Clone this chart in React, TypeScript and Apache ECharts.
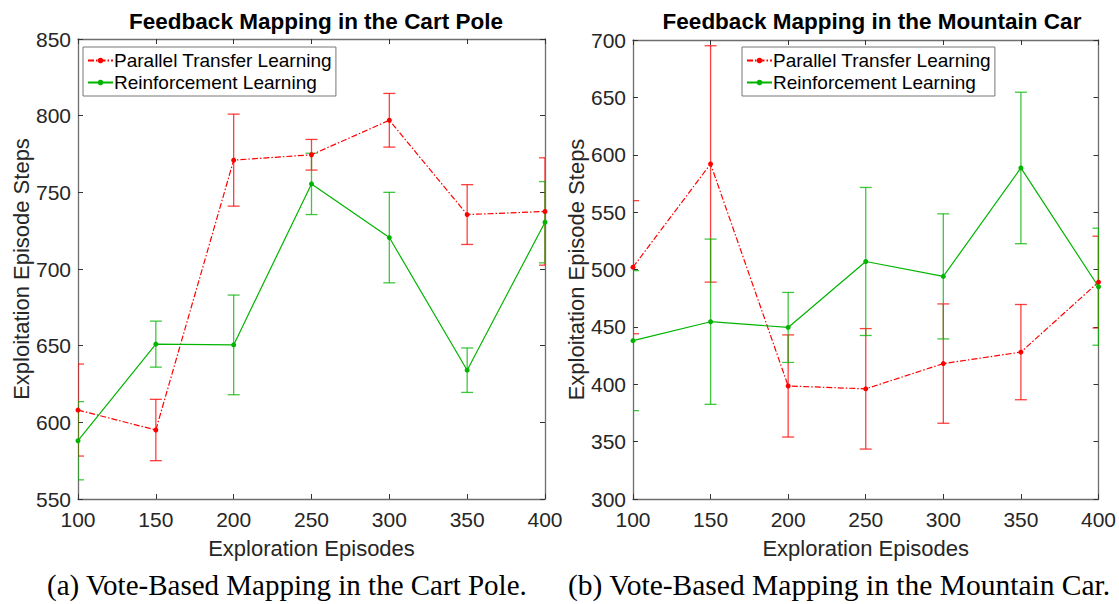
import React, { useEffect, useRef } from "react";
import * as echarts from "echarts";

const episodes = [100, 150, 200, 250, 300, 350, 400];

const cartPTL = [608, 595, 771, 774.5, 797, 735.5, 737.5];
const cartPTLErr = [30, 20, 30, 10, 17.5, 19.5, 35];
const cartRL = [588, 651, 650.5, 755.5, 720.5, 634, 730.5];
const cartRLErr = [25.5, 15, 32.5, 20, 29.5, 14.5, 26.5];

const mcPTL = [502, 592, 398.5, 396, 418, 428, 489];
const mcPTLErr = [58, 103, 44.5, 52.5, 52, 41.5, 40];
const mcRL = [438, 454.5, 449.5, 507, 494, 588.5, 485];
const mcRLErr = [61, 72, 30.5, 64.5, 54.5, 66, 51];

const titles = ["Feedback Mapping in the Cart Pole", "Feedback Mapping in the Mountain Car"];
const captions = ["(a) Vote-Based Mapping in the Cart Pole.", "(b) Vote-Based Mapping in the Mountain Car."];
const seriesNames = ["Parallel Transfer Learning", "Reinforcement Learning"];
const yAxisName = "Exploitation Episode Steps";
const xAxisName = "Exploration Episodes";

const RED = "#ff0000";
const GREEN = "#00b400";
const SANS = "'Liberation Sans', Arial, Helvetica, sans-serif";
const SERIF = "'Liberation Serif', 'DejaVu Serif', serif";
const AXIS_COLOR = "#6e6e6e";
const TEXT_COLOR = "#262626";

function pairs(vals: number[]) {
  return episodes.map((x, i) => [x, vals[i]]);
}
function errs(vals: number[], e: number[]) {
  return episodes.map((x, i) => [x, vals[i] - e[i], vals[i] + e[i]]);
}

function errorSeries(data: number[][], color: string, gi: number) {
  return {
    type: "custom",
    xAxisIndex: gi * 2,
    yAxisIndex: gi * 2,
    clip: true,
    silent: true,
    z: 1,
    data,
    renderItem: (params: any, api: any) => {
      const x = api.value(0);
      const lo = api.value(1);
      const hi = api.value(2);
      const top = api.coord([x, hi]);
      const bot = api.coord([x, lo]);
      const w = 6;
      const style = { stroke: color, lineWidth: 1.3, opacity: 0.75 };
      return {
        type: "group",
        children: [
          { type: "line", shape: { x1: top[0], y1: top[1], x2: bot[0], y2: bot[1] }, style },
          { type: "line", shape: { x1: top[0] - w, y1: top[1], x2: top[0] + w, y2: top[1] }, style },
          { type: "line", shape: { x1: bot[0] - w, y1: bot[1], x2: bot[0] + w, y2: bot[1] }, style },
        ],
      };
    },
  };
}

function lineSeries(name: string, vals: number[], color: string, dashed: boolean, gi: number) {
  return {
    type: "line",
    name,
    xAxisIndex: gi * 2,
    yAxisIndex: gi * 2,
    data: pairs(vals),
    symbol: "circle",
    symbolSize: 5,
    z: 3,
    itemStyle: { color },
    lineStyle: { color, width: 1.2, type: dashed ? [6, 2, 1.5, 2] : "solid" },
  };
}

function xAxes(gi: number) {
  const base = {
    type: "value",
    gridIndex: gi,
    min: 100,
    max: 400,
    interval: 50,
    splitLine: { show: false },
    axisLine: { show: true, onZero: false, lineStyle: { color: AXIS_COLOR, width: 1.3 } },
    axisTick: { show: true, inside: true, length: 5, lineStyle: { color: "#333" } },
  };
  return [
    {
      ...base,
      position: "bottom",
      name: xAxisName,
      nameLocation: "middle",
      nameGap: 38,
      nameTextStyle: { fontFamily: SANS, fontSize: 22, color: TEXT_COLOR },
      axisLabel: { show: true, margin: 10, fontFamily: SANS, fontSize: 21, color: TEXT_COLOR },
    },
    { ...base, position: "top", axisLabel: { show: false } },
  ];
}

function yAxes(gi: number, min: number, max: number) {
  const base = {
    type: "value",
    gridIndex: gi,
    min,
    max,
    interval: 50,
    splitLine: { show: false },
    axisLine: { show: true, onZero: false, lineStyle: { color: AXIS_COLOR, width: 1.3 } },
    axisTick: { show: true, inside: true, length: 5, lineStyle: { color: "#333" } },
  };
  return [
    {
      ...base,
      position: "left",
      name: yAxisName,
      nameLocation: "middle",
      nameGap: 45,
      nameTextStyle: { fontFamily: SANS, fontSize: 22, color: TEXT_COLOR },
      axisLabel: { show: true, margin: 7, fontFamily: SANS, fontSize: 21, color: TEXT_COLOR },
    },
    { ...base, position: "right", axisLabel: { show: false } },
  ];
}

function legend(left: number) {
  return {
    left,
    top: 47,
    orient: "vertical",
    data: seriesNames,
    backgroundColor: "#fff",
    borderColor: "#777",
    borderWidth: 1,
    borderRadius: 0,
    padding: [4, 4, 4, 4],
    itemGap: 3,
    itemWidth: 25,
    itemHeight: 7,
    textStyle: { fontFamily: SANS, fontSize: 19, color: "#000", padding: [0, 0, 0, -4] },
    selectedMode: false,
  };
}

export default function App() {
  const ref = useRef<HTMLDivElement>(null);
  useEffect(() => {
    if (!ref.current) return;
    const chart = echarts.init(ref.current, undefined, { renderer: "svg" });
    const titleStyle = { fontFamily: SANS, fontSize: 22.5, fontWeight: "bold", color: "#000" };
    const option: any = {
      animation: false,
      backgroundColor: "#fff",
      title: [
        { text: titles[0], left: 311, top: 5, textAlign: "center", textStyle: titleStyle },
        { text: titles[1], left: 867, top: 5, textAlign: "center", textStyle: titleStyle },
      ],
      legend: [legend(83), legend(742)],
      grid: [
        { left: 78, top: 39, width: 467, height: 460 },
        { left: 633, top: 40, width: 468, height: 459 },
      ],
      xAxis: [...xAxes(0), ...xAxes(1)],
      yAxis: [...yAxes(0, 550, 850), ...yAxes(1, 300, 700)],
      series: [
        errorSeries(errs(cartPTL, cartPTLErr), RED, 0),
        errorSeries(errs(cartRL, cartRLErr), GREEN, 0),
        lineSeries(seriesNames[0], cartPTL, RED, true, 0),
        lineSeries(seriesNames[1], cartRL, GREEN, false, 0),
        errorSeries(errs(mcPTL, mcPTLErr), RED, 1),
        errorSeries(errs(mcRL, mcRLErr), GREEN, 1),
        lineSeries(seriesNames[0], mcPTL, RED, true, 1),
        lineSeries(seriesNames[1], mcRL, GREEN, false, 1),
      ],
      graphic: [
        {
          type: "text",
          left: 47,
          top: 570,
          style: { text: captions[0], font: `29px ${SERIF}`, fill: "#000" },
        },
        {
          type: "text",
          left: 568,
          top: 570,
          style: { text: captions[1], font: `29.5px ${SERIF}`, fill: "#000" },
        },
      ],
    };
    chart.setOption(option);
    return () => chart.dispose();
  }, []);
  return (
    <div
      ref={ref}
      style={{ position: "fixed", left: 0, top: 0, width: 1119, height: 604, background: "#fff" }}
    />
  );
}
